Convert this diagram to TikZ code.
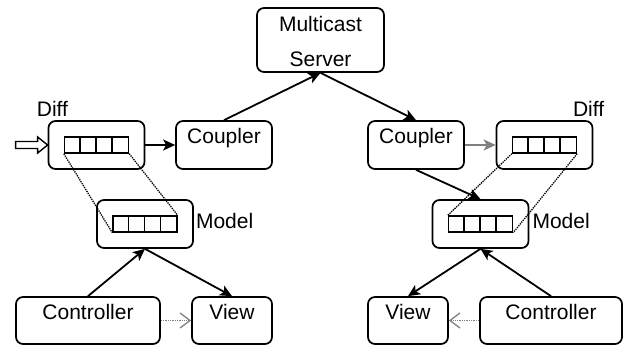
\documentclass[tikz,border=0pt]{standalone}
\usepackage{fontspec}
\setmainfont{Liberation Sans}
\usetikzlibrary{arrows.meta}

\begin{document}
\begin{tikzpicture}[x=1pt,y=-1pt,
  box/.style={draw,rounded corners=7pt,line width=1.7pt,minimum width=96pt,minimum height=48pt,inner sep=0pt},
  grid/.style={draw,line width=1.4pt,minimum width=64pt,minimum height=16pt,inner sep=0pt},
  txt/.style={font=\fontsize{21}{35}\selectfont,inner sep=0pt},
  flow/.style={-{Stealth[length=12pt,width=11pt,inset=3pt]},line width=1.8pt},
  sync/.style={flow,gray},
  link/.style={densely dotted,line width=1.3pt},
  call/.style={-{Straight Barb[length=10pt,width=15pt]},densely dotted,gray,line width=1.3pt}]
  \useasboundingbox (0,0) rectangle (623,347);
  % server
  \node[box,minimum width=127pt,minimum height=64pt] (ms) at (320.5,40) {};
  \node[txt,anchor=base,align=center] (msT) at ([yshift=-59.5pt]ms.north) {Multicast\\Server};
  % left site
  \node[box] (diffL) at (96.5,145) {};
  \node[grid] (gDL) at (diffL) {};
  \node[box] (coupL) at (224,145) {};
  \node[box] (modelL) at (145,224) {};
  \node[grid] (gML) at (modelL) {};
  \node[box,minimum width=144pt,minimum height=47pt] (ctrlL) at (88,320.5) {};
  \node[box,minimum width=80pt,minimum height=47pt] (viewL) at (232,320.5) {};
  % right site
  \node[box] (coupR) at (416,145) {};
  \node[box] (diffR) at (544.5,145) {};
  \node[grid] (gDR) at (diffR) {};
  \node[box] (modelR) at (480.5,224) {};
  \node[grid] (gMR) at (modelR) {};
  \node[box,minimum width=80pt,minimum height=47pt] (viewR) at (408,320.5) {};
  \node[box,minimum width=142pt,minimum height=47pt] (ctrlR) at (551,320.5) {};
  % texts
  \foreach \b/\t in {coupL/Coupler,ctrlL/Controller,viewL/View,coupR/Coupler,viewR/View,ctrlR/Controller}
    \node[txt,anchor=base] (\b-t) at ([yshift=-23.5pt]\b.north) {\t};
  \node[txt,anchor=base west] (diffL-t) at ([xshift=-11pt,yshift=4pt]diffL.north west) {Diff};
  \node[txt,anchor=base east] (diffR-t) at ([xshift=11pt,yshift=4pt]diffR.north east) {Diff};
  \node[txt,anchor=base west] (modelL-t) at ([xshift=2pt,yshift=-5pt]modelL.east) {Model};
  \node[txt,anchor=base west] (modelR-t) at ([xshift=3pt,yshift=-5pt]modelR.east) {Model};
  % grid cells
  \foreach \g in {gDL,gML,gDR,gMR}
    \foreach \i in {1,2,3}
      \draw[line width=1.4pt] ([xshift={\i*16pt}]\g.south west) -- ([xshift={\i*16pt}]\g.north west);
  % input arrow
  \draw[line width=1.4pt,line join=miter] (diffL.west) -- ++(-10,-8) -- ++(0,4.5) -- ++(-22,0)
    -- ++(0,7) -- ++(22,0) -- ++(0,4.5) -- cycle;
  % connectors
  \draw[flow] (diffL.east) -- (coupL.west);
  \draw[flow] (coupL.north) -- (ms.south);
  \draw[flow] (ms.south) -- (coupR.north);
  \draw[sync] (coupR.east) -- (diffR.west);
  \draw[flow] (coupR.south) -- (modelR.north);
  \draw[flow] (ctrlL.north) -- (modelL.south);
  \draw[flow] (modelL.south) -- (viewL.north);
  \draw[call] (ctrlL.east) -- (viewL.west);
  \draw[flow] (modelR.south) -- (viewR.north);
  \draw[flow] (ctrlR.north) -- (modelR.south);
  \draw[call] (ctrlR.west) -- (viewR.east);
  \draw[link] (gDL.south west) -- (gML.south west);
  \draw[link] (gDL.south east) -- (gML.north east);
  \draw[link] (gDR.south west) -- (gMR.north west);
  \draw[link] (gDR.south east) -- (gMR.south east);
\end{tikzpicture}
\end{document}
